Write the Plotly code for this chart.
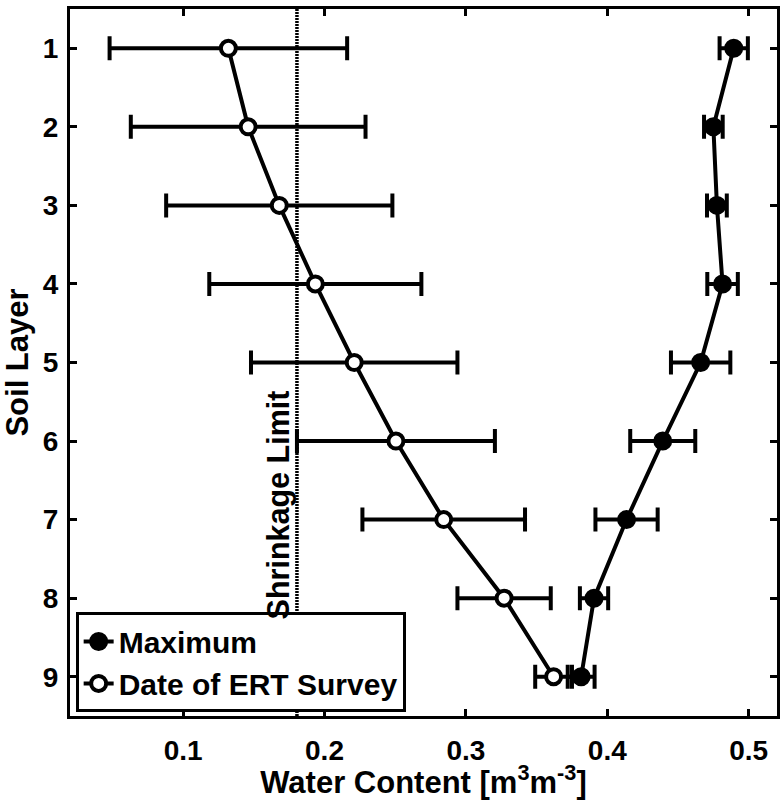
import plotly.graph_objects as go

layers = [1, 2, 3, 4, 5, 6, 7, 8, 9]
ert_values = [0.132, 0.146, 0.168, 0.1935, 0.221, 0.2505, 0.2843, 0.327, 0.362]
ert_errors = [0.084, 0.083, 0.080, 0.075, 0.073, 0.070, 0.0575, 0.033, 0.013]
max_values = [0.4894, 0.475, 0.4775, 0.4815, 0.466, 0.4392, 0.4136, 0.3906, 0.3815]
max_errors = [0.010, 0.0066, 0.007, 0.0108, 0.021, 0.023, 0.022, 0.010, 0.0095]
shrinkage_limit = 0.1805
x_ticks = [0.1, 0.2, 0.3, 0.4, 0.5]
x_tick_labels = ["0.1", "0.2", "0.3", "0.4", "0.5"]

FONT = "Liberation Sans"
BOLD = dict(family=FONT, weight="bold", color="black")

fig = go.Figure()

fig.add_trace(go.Scatter(
    x=ert_values, y=layers, mode="lines+markers", name="Date of ERT Survey",
    legendrank=2,
    line=dict(color="black", width=4),
    marker=dict(symbol="circle", size=15, color="white", line=dict(color="black", width=4)),
    error_x=dict(type="data", array=ert_errors, visible=True, color="black", thickness=4, width=12),
))
fig.add_trace(go.Scatter(
    x=max_values, y=layers, mode="lines+markers", name="Maximum",
    legendrank=1,
    line=dict(color="black", width=4),
    marker=dict(symbol="circle", size=16, color="black", line=dict(color="black", width=3)),
    error_x=dict(type="data", array=max_errors, visible=True, color="black", thickness=4, width=12),
))

fig.add_shape(type="line", xref="x", yref="y", x0=shrinkage_limit, x1=shrinkage_limit,
              y0=0.5, y1=9.5, layer="below",
              line=dict(color="black", width=3.5, dash="2px,1px"))

fig.add_annotation(x=0.1676, y=6.81, xref="x", yref="y", text="Shrinkage Limit",
                   textangle=-90, showarrow=False, xanchor="center", yanchor="middle",
                   font=dict(size=30.5, **BOLD))

axis_common = dict(showline=True, linecolor="black", linewidth=3, mirror="ticks",
                   ticks="inside", ticklen=7, tickwidth=3, tickcolor="black",
                   showgrid=False, zeroline=False, tickfont=dict(size=28, **BOLD))

fig.update_xaxes(range=[0.02, 0.52], tickvals=x_ticks, ticktext=x_tick_labels,
                 title=dict(text="Water Content [m<sup>3</sup>m<sup>-3</sup>]",
                            font=dict(size=31, **BOLD), standoff=10),
                 ticklabelstandoff=7,
                 **axis_common)
fig.update_yaxes(range=[9.5, 0.5], tickvals=layers,
                 title=dict(text="Soil Layer", font=dict(size=31, **BOLD), standoff=8),
                 ticklabelstandoff=3,
                 **axis_common)

fig.update_layout(
    width=783, height=800,
    margin=dict(l=70, r=3, t=9, b=81),
    paper_bgcolor="white", plot_bgcolor="white",
    showlegend=True,
    legend=dict(x=0.008, y=0.005, xanchor="left", yanchor="bottom",
                bgcolor="white", bordercolor="black", borderwidth=3,
                font=dict(size=30, **BOLD), itemwidth=30,
                tracegroupgap=0),
)

fig.write_html("out.html")
